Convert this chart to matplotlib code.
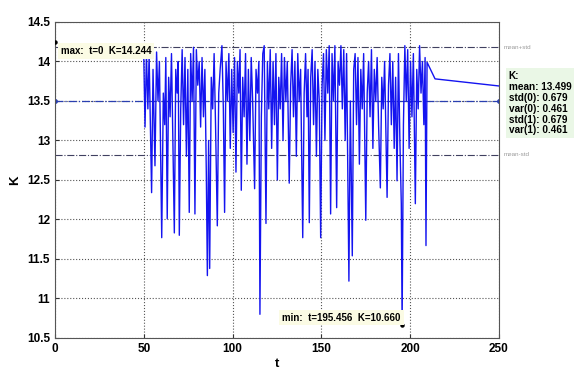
import numpy as np
import matplotlib
matplotlib.use('Agg')
import matplotlib.pyplot as plt

plt.rcParams['font.family'] = ['Liberation Sans', 'DejaVu Sans']

# ---------------------------------------------------------------------------
# Data
# ---------------------------------------------------------------------------
t_vals = [
    50.0, 50.7, 51.5, 52.3, 53.0, 54.4, 55.2, 56.3, 57.2, 58.0, 58.8, 60.1,
    61.0, 61.8, 62.4, 63.2, 64.0, 64.8, 65.6, 66.4, 67.2, 68.0, 68.8, 69.4,
    70.0, 70.8, 71.6, 72.4, 73.2, 74.0, 74.8, 75.6, 76.4, 77.2, 78.0, 78.8,
    79.6, 80.4, 81.2, 82.0, 82.8, 83.6, 84.4, 85.2, 85.8, 86.5, 87.1, 88.0,
    88.8, 89.6, 90.4, 91.4, 92.2, 93.0, 94.0, 94.8, 95.5, 96.3, 97.1, 97.9,
    98.7, 99.5, 100.3, 101.1, 101.9, 102.7, 103.5, 104.2, 104.9, 105.7, 106.5,
    107.3, 108.1, 108.9, 109.7, 110.5, 111.3, 112.4, 113.2, 114.0, 114.8,
    115.4, 116.2, 117.0, 117.8, 118.8, 119.6, 120.4, 121.2, 122.0, 122.8,
    123.6, 124.4, 125.2, 126.0, 126.8, 127.6, 128.4, 129.2, 130.0, 130.8,
    131.9, 132.7, 133.5, 134.3, 135.1, 135.9, 136.7, 137.5, 138.3, 139.5,
    140.3, 141.1, 141.9, 142.5, 143.2, 144.0, 144.8, 145.6, 146.4, 147.2,
    148.0, 148.8, 149.6, 150.4, 151.2, 152.0, 152.8, 153.6, 154.4, 155.2,
    156.0, 156.8, 157.6, 158.6, 159.4, 160.2, 161.0, 161.8, 162.6, 163.4,
    164.2, 165.5, 166.3, 167.4, 168.2, 169.0, 169.8, 170.6, 171.4, 172.2,
    173.0, 173.8, 175.0, 175.8, 176.6, 177.4, 178.2, 179.0, 179.8, 180.6,
    181.4, 182.2, 183.2, 184.0, 184.8, 185.6, 187.0, 187.8, 188.6, 189.4,
    190.2, 191.0, 191.8, 192.6, 193.4, 194.2, 195.0, 195.456, 196.2, 197.0,
    197.8, 198.6, 199.4, 200.2, 201.0, 201.8, 202.9, 203.7, 204.5, 205.3,
    206.1, 206.9, 207.7, 208.4, 208.9, 209.5, 214.0, 250.0,
]
k_vals = [
    14.05, 13.17, 14.10, 13.40, 14.08, 12.34, 13.90, 12.68, 14.12, 13.50, 14.00, 11.77,
    13.60, 13.20, 14.05, 12.01, 13.80, 13.30, 14.10, 13.00, 11.83, 13.90, 13.60, 14.00,
    11.80, 13.40, 14.15, 13.20, 14.05, 12.80, 13.90, 12.09, 14.10, 13.50, 14.18, 12.07,
    14.15, 13.70, 14.00, 13.17, 14.05, 13.30, 13.90, 12.60, 11.29, 13.00, 11.38, 13.80,
    13.40, 14.10, 13.20, 11.92, 13.60, 13.90, 14.20, 13.40, 12.09, 14.00, 13.50, 14.10,
    12.90, 13.90, 13.10, 14.05, 12.60, 14.00, 13.60, 14.15, 12.37, 13.80, 13.30,
    14.10, 12.70, 13.90, 13.00, 14.05, 13.50, 12.39, 13.90, 13.60, 14.00,
    10.80, 13.30, 14.10, 14.20, 11.95, 14.00, 13.40, 14.15, 12.90, 14.00,
    13.20, 14.10, 12.50, 13.80, 13.40, 14.10, 13.00, 14.05, 13.50, 14.00,
    12.46, 13.70, 14.15, 13.30, 14.00, 12.80, 14.10, 13.50, 13.90, 11.77,
    13.60, 14.10, 13.30, 13.90, 11.96, 13.80, 14.15, 13.20, 14.00, 12.80,
    13.90, 13.50, 11.77, 13.70, 14.10, 13.00, 14.15, 13.60, 14.20, 12.07,
    14.10, 13.50, 14.20, 12.15, 14.00, 13.70, 14.20, 13.40, 14.15, 13.00,
    14.10, 11.22, 13.50, 11.54, 13.90, 14.10, 13.20, 14.05, 12.70, 13.90,
    13.40, 14.10, 11.99, 13.60, 14.00, 13.30, 14.15, 12.90, 13.90, 13.50,
    14.05, 13.20, 12.40, 13.80, 13.40, 14.00, 12.28, 13.70, 14.10, 13.20,
    14.00, 12.90, 13.80, 12.49, 14.10, 13.00, 12.20, 10.66, 13.20, 14.20,
    13.50, 14.15, 12.90, 14.00, 13.30, 14.10, 12.20, 13.90, 13.40, 14.20,
    13.60, 14.00, 13.20, 14.05, 11.67, 13.99, 13.78, 13.69,
]

K_MEAN = 13.499
K_STD = 0.679
MAX_T, MAX_K = 0.0, 14.244
MIN_T, MIN_K = 195.456, 10.660

stats_lines = ['K:', 'mean: 13.499', 'std(0): 0.679', 'var(0): 0.461',
               'std(1): 0.679', 'var(1): 0.461']

x_ticks = [0, 50, 100, 150, 200, 250]
y_ticks = [10.5, 11, 11.5, 12, 12.5, 13, 13.5, 14, 14.5]

# ---------------------------------------------------------------------------
# Plot
# ---------------------------------------------------------------------------
fig = plt.figure(figsize=(5.74, 3.72), dpi=100)
ax = fig.add_axes([0.0958, 0.0914, 0.7735, 0.8495])

ax.plot(t_vals, k_vals, color='#1414f0', linewidth=1.0, zorder=3)

# mean / mean +- std lines
ax.plot([0, 250], [K_MEAN, K_MEAN], color='#2a3fb0', linestyle='-.',
        linewidth=0.9, marker='o', markersize=2.5, zorder=2)
ax.axhline(K_MEAN + K_STD, color='#404060', linestyle='-.', linewidth=0.8, zorder=2)
ax.axhline(K_MEAN - K_STD, color='#404060', linestyle='-.', linewidth=0.8, zorder=2)
ax.text(1.01, K_MEAN + K_STD, 'mean+std', transform=ax.get_yaxis_transform(),
        fontsize=4.5, color='#9a9a9a', va='center', ha='left')
ax.text(1.01, K_MEAN - K_STD, 'mean-std', transform=ax.get_yaxis_transform(),
        fontsize=4.5, color='#9a9a9a', va='center', ha='left')

# max / min markers
ax.plot([MAX_T], [MAX_K], 'ko', markersize=2.2, zorder=5)
ax.plot([MIN_T], [MIN_K], 'ko', markersize=2.2, zorder=5)
ax.annotate(f'max:  t={MAX_T:g}  K={MAX_K:.3f}', xy=(MAX_T, MAX_K),
            xytext=(4, -3), textcoords='offset points', ha='left', va='top',
            fontsize=7, fontweight='bold', zorder=6,
            bbox=dict(boxstyle='square,pad=0.3', fc='#fbfbe4', ec='none'))
ax.annotate(f'min:  t={MIN_T:.3f}  K={MIN_K:.3f}', xy=(MIN_T, MIN_K),
            xytext=(-1, 2), textcoords='offset points', ha='right', va='bottom',
            fontsize=7, fontweight='bold', zorder=6,
            bbox=dict(boxstyle='square,pad=0.3', fc='#fbfbe4', ec='none'))

# stats box on the right
fig.text(0.886, 0.81, '\n'.join(stats_lines), fontsize=7.2, fontweight='bold',
         va='top', ha='left', linespacing=1.12,
         bbox=dict(boxstyle='square,pad=0.3', fc='#eaf7e6', ec='none'))

ax.set_xlim(0, 250)
ax.set_ylim(10.5, 14.5)
ax.set_xticks(x_ticks)
ax.set_yticks(y_ticks)
ax.set_yticklabels([f'{v:g}' for v in y_ticks])
ax.tick_params(direction='in', labelsize=8.5, length=3, color='#333333')
for lbl in ax.get_xticklabels() + ax.get_yticklabels():
    lbl.set_fontweight('bold')
ax.grid(True, linestyle=':', color='#555555', linewidth=0.8)
for sp in ax.spines.values():
    sp.set_color('#555555')
ax.set_xlabel('t', fontsize=9.5, fontweight='bold', labelpad=2)
ax.set_ylabel('K', fontsize=9.5, fontweight='bold', labelpad=4)

plt.savefig('out.png', dpi=100)
plt.close()
